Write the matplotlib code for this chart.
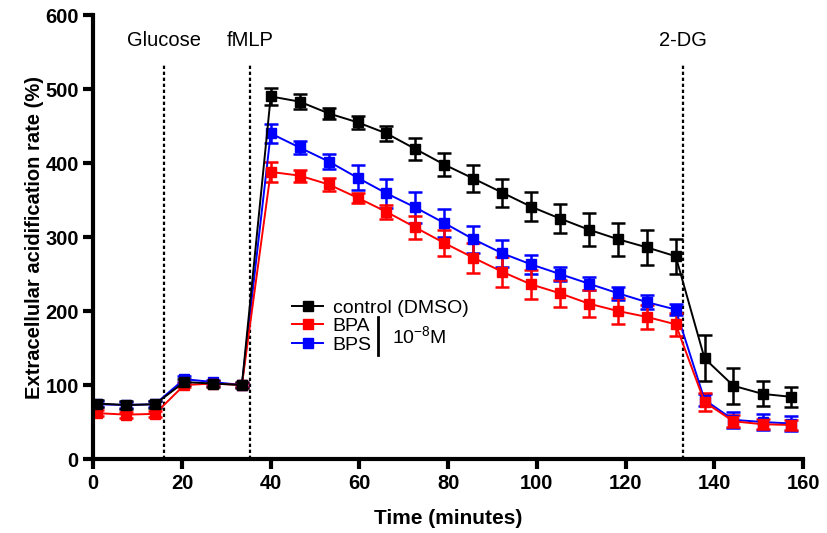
import matplotlib.pyplot as plt
from matplotlib.lines import Line2D

time_min = [0.9, 7.4, 13.9, 20.5, 27.0, 33.5, 40.0, 46.5, 53.1, 59.6, 66.1, 72.6, 79.1,
            85.7, 92.2, 98.7, 105.2, 111.7, 118.3, 124.8, 131.3, 137.8, 144.3, 150.9, 157.4]

control = [75, 73, 74, 104, 102, 100, 490, 483, 467, 455, 440, 419, 398,
           379, 360, 341, 325, 310, 297, 286, 274, 136, 99, 88, 84]
control_err = [5, 5, 5, 4, 4, 4, 12, 10, 7, 9, 10, 15, 16,
               18, 19, 20, 20, 22, 22, 24, 24, 31, 24, 17, 14]

bpa = [62, 60, 61, 100, 102, 100, 388, 383, 371, 353, 334, 313, 292,
       272, 253, 236, 224, 210, 200, 192, 182, 77, 51, 47, 46]
bpa_err = [4, 4, 4, 3, 3, 3, 13, 8, 9, 7, 9, 15, 18,
           20, 20, 20, 18, 18, 17, 16, 16, 12, 8, 7, 7]

bps = [74, 73, 74, 108, 104, 100, 440, 421, 402, 380, 359, 340, 319,
       297, 278, 263, 250, 237, 224, 212, 202, 80, 53, 50, 48]
bps_err = [4, 4, 4, 4, 3, 3, 13, 9, 10, 17, 20, 21, 19,
           18, 18, 13, 10, 9, 9, 9, 8, 8, 11, 11, 10]

injections = [16.0, 35.3, 132.9]
injection_labels = ["Glucose", "fMLP", "2-DG"]

plt.rcParams["font.family"] = ["Liberation Sans", "DejaVu Sans"]
plt.rcParams["mathtext.default"] = "regular"

fig = plt.figure(figsize=(8.27, 5.33), dpi=100)
ax = fig.add_axes([0.1128, 0.1388, 0.8582, 0.833])

series = [
    (bps, bps_err, "#0000ff", "BPS"),
    (bpa, bpa_err, "#ff0000", "BPA"),
    (control, control_err, "black", "control (DMSO)"),
]
for vals, err, color, label in series:
    ax.errorbar(time_min, vals, yerr=err, color=color, marker="s", markersize=7,
                linewidth=1.4, elinewidth=1.8, capsize=5, capthick=1.8)

for x, lab in zip(injections, injection_labels):
    ax.plot([x, x], [0, 535], color="black", linestyle=(0, (1.5, 1.2)), linewidth=1.6, zorder=1)
    ax.text(x, 566, lab, ha="center", va="center", fontsize=14.5)

ax.set_xlim(0, 160)
ax.set_ylim(0, 600)
ax.set_xticks(range(0, 161, 20))
ax.set_yticks(range(0, 601, 100))
for s in ["top", "right"]:
    ax.spines[s].set_visible(False)
for s in ["left", "bottom"]:
    ax.spines[s].set_linewidth(3)
ax.tick_params(width=3, length=7, labelsize=14.5)
for lbl in ax.get_xticklabels() + ax.get_yticklabels():
    lbl.set_fontweight("bold")

ax.set_xlabel("Time (minutes)", fontsize=15, fontweight="bold", labelpad=12)
ax.set_ylabel("Extracellular acidification rate (%)", fontsize=14.5, fontweight="bold", labelpad=1)

handles = [Line2D([], [], color=c, marker="s", markersize=7, linewidth=1.4) for _, _, c, _ in series[::-1]]
labels = [lab for _, _, _, lab in series[::-1]]
ax.legend(handles, labels, loc="upper left", bbox_to_anchor=(0.269, 0.378), frameon=False,
          fontsize=14, handlelength=1.6, handletextpad=0.5, labelspacing=0.05, borderaxespad=0)

ax.plot([0.401, 0.401], [0.234, 0.320], color="black", linewidth=2, transform=ax.transAxes, clip_on=False)
ax.text(0.421, 0.277, "10$^{-8}$M", transform=ax.transAxes, fontsize=14, va="center")

fig.savefig("out.png", dpi=100)
